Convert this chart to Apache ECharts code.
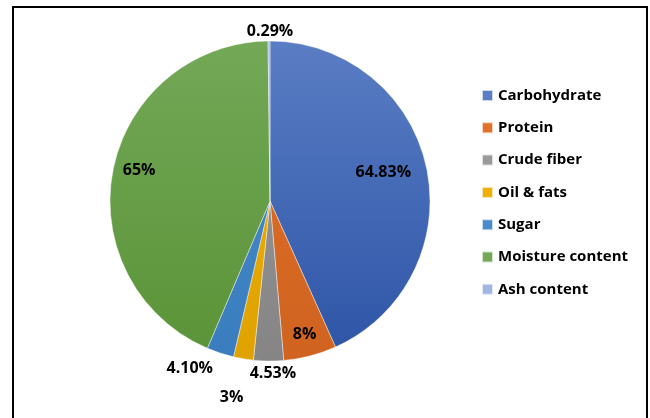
<!DOCTYPE html>
<html>
<head>
<meta charset="utf-8">
<script src="https://cdn.jsdelivr.net/npm/echarts@6/dist/echarts.min.js"></script>
<style>html,body{margin:0;padding:0;background:#fff;}#c{width:650px;height:418px;}</style>
</head>
<body>
<div id="c"></div>
<script>
const categories = ['Carbohydrate', 'Protein', 'Crude fiber', 'Oil & fats', 'Sugar', 'Moisture content', 'Ash content'];
const values = [64.83, 8, 4.53, 3, 4.10, 65, 0.29];
const labels = ['64.83%', '8%', '4.53%', '3%', '4.10%', '65%', '0.29%'];
const colorsTop = ['#5A7DC4', '#E2712B', '#9A9A9A', '#F0B000', '#4A8CCB', '#73A857', '#A2B4E2'];
const colorsBottom = ['#2D54A6', '#CF631F', '#858585', '#DFA200', '#3A7DBE', '#5A9337', '#8EA3D8'];
// label placement: radius ratio and angle shift (deg)
const labelRatio = [0.73, 0.86, 1.075, 1.25, 1.16, 0.84, 1.06];
const labelShift = [-2, 0, -1.5, 1.5, 7.5, 2, 0.35];

const CX = 270, CY = 201, R = 160;
const total = values.reduce((a, b) => a + b, 0);
const mids = [];
let acc = 0;
values.forEach(v => { const a = v / total * 360; mids.push(acc + a / 2); acc += a; });

const chart = echarts.init(document.getElementById('c'), null, {renderer: 'canvas'});
const FONT = 'Open Sans';
chart.setOption({
  backgroundColor: '#fff',
  animation: false,
  graphic: [{
    type: 'rect', shape: {x: 13, y: 7, width: 634, height: 430},
    style: {fill: 'none', stroke: '#000', lineWidth: 2}, z: 100
  }],
  legend: {
    orient: 'vertical', left: 481, top: 88, padding: 0,
    itemWidth: 11, itemHeight: 11, itemGap: 17.3, icon: 'rect',
    textStyle: {fontFamily: FONT, fontWeight: 'bold', fontSize: 15, color: '#000', lineHeight: 14, padding: [0, 0, 0, 0]},
    data: categories
  },
  series: [{
    type: 'pie',
    center: [CX, CY], radius: R,
    startAngle: 90, clockwise: true,
    itemStyle: {borderColor: 'rgba(255,255,255,0.7)', borderWidth: 0.6},
    label: {
      show: true, position: 'inside',
      fontFamily: FONT, fontWeight: 'bold', fontSize: 16, color: '#000',
      formatter: p => labels[p.dataIndex]
    },
    labelLine: {show: false},
    labelLayout: function (p) {
      const i = p.dataIndex;
      const a = (mids[i] + labelShift[i]) * Math.PI / 180;
      const r = R * labelRatio[i];
      return {x: CX + r * Math.sin(a), y: CY - r * Math.cos(a), align: 'center', verticalAlign: 'middle'};
    },
    emphasis: {disabled: true},
    data: categories.map((c, i) => ({
      name: c, value: values[i],
      itemStyle: {color: new echarts.graphic.LinearGradient(0, CY - R, 0, CY + R, [
        {offset: 0, color: colorsTop[i]}, {offset: 1, color: colorsBottom[i]}], true)}
    }))
  }]
});
</script>
</body>
</html>
